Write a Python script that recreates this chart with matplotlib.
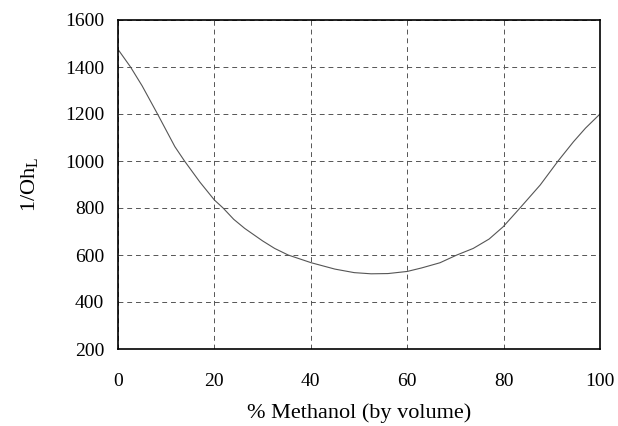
import matplotlib
matplotlib.use("Agg")
import matplotlib.pyplot as plt

methanol = [0, 2.6, 5, 8.2, 11.8, 13.8, 17, 20, 21.8, 24, 26.3, 30, 32.5, 35.3, 40.1, 45, 49, 52.5, 56, 60, 63, 66.8, 70.3, 73.7, 77, 79.9, 83.4, 87.6, 91.3, 94.5, 97, 100]
inv_oh = [1475, 1400, 1320, 1200, 1061, 1000, 910, 834, 800, 752, 713, 660, 628, 600, 567, 540, 525, 520, 521, 530, 545, 567, 600, 628, 668, 720, 800, 898, 1000, 1082, 1140, 1200]

xticks = [0, 20, 40, 60, 80, 100]
yticks = [200, 400, 600, 800, 1000, 1200, 1400, 1600]

plt.rcParams['font.family'] = ['Liberation Serif', 'DejaVu Serif']

fig = plt.figure(figsize=(6.18, 4.26), dpi=100)
ax = fig.add_axes([118/618, 1 - 349/426, (600-118)/618, (349-20)/426])
ax.plot(methanol, inv_oh, color='#555555', linewidth=0.8)
ax.set_xlim(0, 100)
ax.set_ylim(200, 1600)
ax.set_xticks(xticks)
ax.set_yticks(yticks)
ax.tick_params(length=0, labelsize=14, pad=10)
ax.tick_params(axis='x', pad=17)
ax.grid(True, linestyle=(0, (5, 4)), color='#555555', linewidth=0.7)
for s in ax.spines.values():
    s.set_linewidth(1.2)
    s.set_color('black')
ax.set_xlabel('% Methanol (by volume)', fontsize=16, labelpad=10)
ax.set_ylabel(r'1/Oh$_\mathregular{L}$', fontsize=16, labelpad=17)
fig.savefig('out.png', dpi=100)
